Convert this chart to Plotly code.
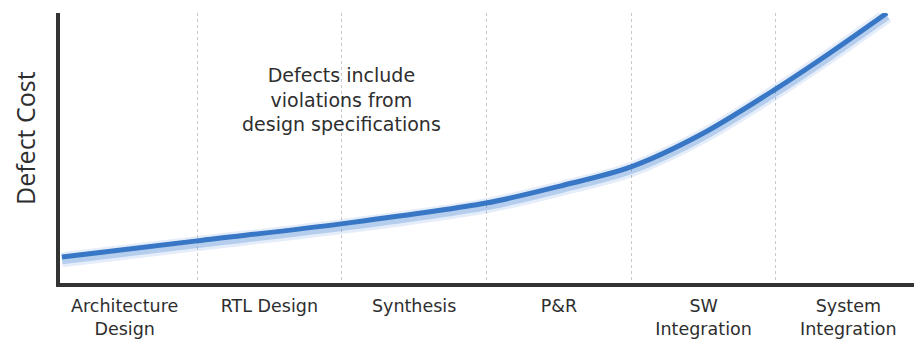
import plotly.graph_objects as go

# Stages (categories) along the x axis
stages = ["Architecture<br>Design", "RTL Design", "Synthesis", "P&R",
          "SW<br>Integration", "System<br>Integration"]
stage_boundaries = [1, 2, 3, 4, 5]

# Defect cost curve (x in stage units, y relative cost)
curve_x = [0.067, 1.0, 1.995, 2.997, 3.508, 3.998, 4.475, 5.0, 5.373, 5.767]
curve_y = [0.096, 0.156, 0.219, 0.296, 0.359, 0.430, 0.548, 0.719, 0.852, 1.0]

note = "Defects include<br>violations from<br>design specifications"
y_title = "Defect Cost"

FONT = "DejaVu Sans"
TXT = "#2e2e2e"

# soft glow sits slightly below the curve
glow_drop = 0.01
glow_y = [v - glow_drop for v in curve_y]

fig = go.Figure()
fig.add_trace(go.Scatter(x=curve_x, y=glow_y, mode="lines",
                         line=dict(color="rgba(90,145,215,0.16)", width=15, shape="spline", smoothing=0.9),
                         hoverinfo="skip", showlegend=False, cliponaxis=False))
fig.add_trace(go.Scatter(x=curve_x, y=glow_y, mode="lines",
                         line=dict(color="rgba(75,135,210,0.30)", width=9, shape="spline", smoothing=0.9),
                         hoverinfo="skip", showlegend=False, cliponaxis=False))
fig.add_trace(go.Scatter(x=curve_x, y=curve_y, mode="lines",
                         line=dict(color="#3877c5", width=5, shape="spline", smoothing=0.9),
                         showlegend=False, cliponaxis=False))

fig.add_annotation(x=2.0, y=0.68, xref="x", yref="y", text=note, showarrow=False,
                   font=dict(family=FONT, size=19, color=TXT), align="center")
fig.add_annotation(x=0, y=0.5, xref="paper", yref="paper", xanchor="center", yanchor="middle",
                   xshift=-35, yshift=10, borderpad=0,
                   text=y_title, showarrow=False, textangle=-90,
                   font=dict(family="Open Sans", size=25, color=TXT))

fig.update_layout(
    width=922, height=339,
    margin=dict(l=52, r=8, t=5, b=64),
    paper_bgcolor="white", plot_bgcolor="white",
    xaxis=dict(range=[0.0535, 6.009], showline=True, linecolor="#333333", linewidth=4,
               automargin=False,
               tickvals=[i + 0.5 for i in range(len(stages))], ticktext=stages,
               ticks="", showgrid=False, zeroline=False, ticklabelstandoff=4,
               tickfont=dict(family=FONT, size=17.5, color=TXT),
               minor=dict(tickvals=stage_boundaries, showgrid=True, gridcolor="#c8c8c8",
                          griddash="dot", gridwidth=1, ticks="")),
    yaxis=dict(range=[0, 1.0], showline=True, linecolor="#333333", linewidth=4,
               automargin=False,
               showticklabels=False, ticks="", showgrid=False, zeroline=False),
)
fig.write_html("out.html")
